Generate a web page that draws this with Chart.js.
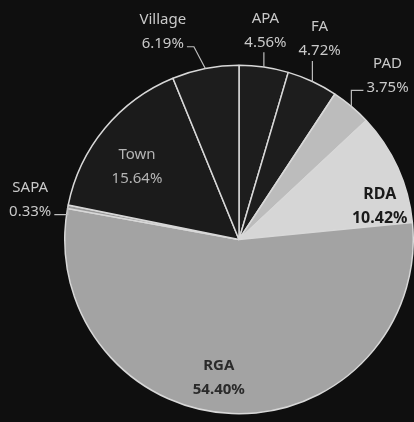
<!DOCTYPE html>
<html>
<head>
<meta charset="utf-8">
<script src="https://cdn.jsdelivr.net/npm/chart.js@4.4.0/dist/chart.umd.min.js"></script>
<style>
  html, body { margin: 0; padding: 0; background: #0f0f0f; }
  #wrap { width: 414px; height: 422px; }
</style>
</head>
<body>
<div id="wrap"><canvas id="pie"></canvas></div>
<script>
const categories = ["APA", "FA", "PAD", "RDA", "RGA", "SAPA", "Town", "Village"];
const shares = [4.56, 4.72, 3.75, 10.42, 54.40, 0.33, 15.64, 6.19];
const sliceColors = ["#1d1d1d", "#1d1d1d", "#bcbcbc", "#d6d6d6", "#a3a3a3", "#9a9a9a", "#1b1b1b", "#1d1d1d"];

// label placement: inside or outside, distance from centre (fraction of radius), angle nudge in degrees
const labelPlace = [
  { out: true, dist: 1.21, nudge: -1 },
  { out: true, dist: 1.24, nudge: -3 },
  { out: true, dist: 1.27, nudge: 2 },
  { out: false, dist: 0.83, nudge: 11, color: "#1a1a1a", bold: true, size: 16 },
  { out: false, dist: 0.80, nudge: 6, color: "#2a2a2a", bold: true, size: 15 },
  { out: true, dist: 1.22, nudge: 0 },
  { out: false, dist: 0.72, nudge: -4, color: "#b4b4b4", bold: false, size: 15 },
  { out: true, dist: 1.27, nudge: -9 }
];

const labelPlugin = {
  id: "sliceLabels",
  afterDatasetsDraw(chart) {
    const ctx = chart.ctx;
    const arcs = chart.getDatasetMeta(0).data;
    ctx.save();
    ctx.textAlign = "center";
    ctx.textBaseline = "middle";
    arcs.forEach((arc, i) => {
      const p = arc.getProps(["x", "y", "startAngle", "endAngle", "outerRadius"], true);
      const mid = (p.startAngle + p.endAngle) / 2;
      const place = labelPlace[i];
      const a = mid + place.nudge * Math.PI / 180;
      const lx = p.x + Math.cos(a) * p.outerRadius * place.dist;
      const ly = p.y + Math.sin(a) * p.outerRadius * place.dist;
      const txt = shares[i].toFixed(2) + "%";
      if (place.out) {
        ctx.fillStyle = "#c9c9c9";
        ctx.font = "15px 'Noto Sans', sans-serif";
        // leader line from slice edge to label
        const ex = p.x + Math.cos(mid) * p.outerRadius;
        const ey = p.y + Math.sin(mid) * p.outerRadius;
        ctx.strokeStyle = "#bdbdbd";
        ctx.lineWidth = 1.2;
        ctx.beginPath();
        if (Math.abs(ex - lx) < 12) {
          ctx.moveTo(ex, ey);
          ctx.lineTo(ex, ly + 22);
        } else {
          const side = ex > lx ? 1 : -1;
          const w = ctx.measureText(txt).width / 2;
          const tx = lx + side * (w + 3);
          let elbow = tx + side * 7;
          if (Math.abs(ex - tx) < 16) elbow = ex;
          const sy = ly + 15;
          ctx.moveTo(tx, sy);
          ctx.lineTo(elbow, sy);
          ctx.lineTo(ex, ey);
        }
        ctx.stroke();
        ctx.fillText(categories[i], lx, ly - 12);
        ctx.fillText(txt, lx, ly + 12);
      } else {
        ctx.fillStyle = place.color;
        ctx.font = (place.bold ? "bold " : "") + place.size + "px 'Noto Sans', sans-serif";
        ctx.fillText(categories[i], lx, ly - 12);
        ctx.fillText(txt, lx, ly + 12);
      }
    });
    ctx.restore();
  }
};

new Chart(document.getElementById("pie"), {
  type: "pie",
  data: {
    labels: categories,
    datasets: [{
      data: shares,
      backgroundColor: sliceColors,
      borderColor: "#d8d8d8",
      borderWidth: 1.5
    }]
  },
  options: {
    responsive: true,
    maintainAspectRatio: false,
    animation: false,
    layout: { padding: { left: 64, right: 0, top: 64, bottom: 7 } },
    plugins: {
      legend: { display: false },
      tooltip: { enabled: false }
    }
  },
  plugins: [labelPlugin]
});
</script>
</body>
</html>
